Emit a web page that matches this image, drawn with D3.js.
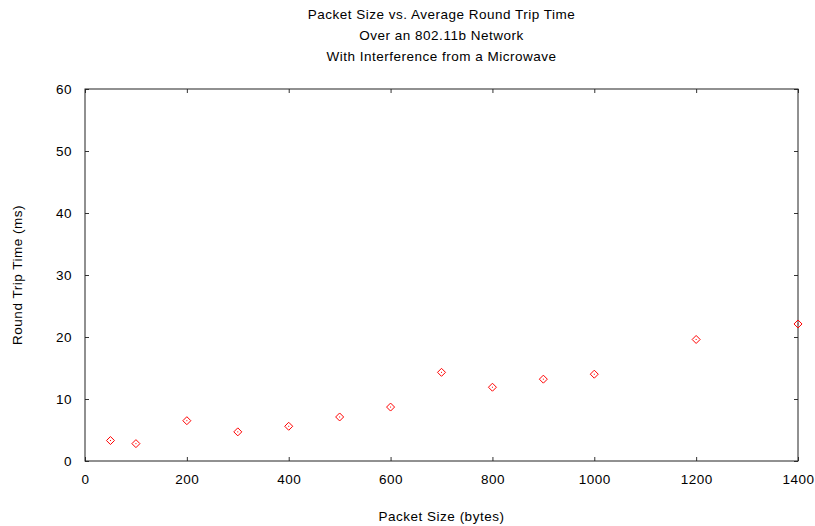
<!DOCTYPE html>
<meta charset="utf-8">
<style>
  body { margin: 0; background: #fff; }
  text { font-family: "Liberation Sans", Arial, sans-serif; fill: #000; letter-spacing: 0.5px; }
</style>
<svg width="815" height="526"></svg>
<script src="https://d3js.org/d3.v7.min.js"></script>
<script>

var packetSizes = [50, 100, 200, 300, 400, 500, 600, 700, 800, 900, 1000, 1200, 1400];
var rttValues   = [3.3, 2.8, 6.5, 4.7, 5.6, 7.1, 8.7, 14.3, 11.9, 13.2, 14.0, 19.6, 22.1];
var xTicks = [0, 200, 400, 600, 800, 1000, 1200, 1400];
var yTicks = [0, 10, 20, 30, 40, 50, 60];
var titleLines = ["Packet Size vs. Average Round Trip Time", "Over an 802.11b Network", "With Interference from a Microwave"];

var svg = d3.select("svg"),
    margin = {top: 89, right: 17, bottom: 65, left: 85},
    width = +svg.attr("width") - margin.left - margin.right,
    height = +svg.attr("height") - margin.top - margin.bottom,
    g = svg.append("g").attr("transform", "translate(" + margin.left + "," + margin.top + ")");

var data = packetSizes.map(function(s, i) { return {size: s, rtt: rttValues[i]}; });

var x = d3.scaleLinear().domain([0, 1400]).range([0, width]);
var y = d3.scaleLinear().domain([0, 60]).range([height, 0]);

var tickLen = 4;

// ticks on all four sides, pointing in
function styleAxis(sel) {
  sel.select(".domain").remove();
  sel.selectAll(".tick line").attr("stroke", "#333");
  sel.selectAll(".tick text")
      .style("font-family", "'Liberation Sans', Arial, sans-serif")
      .style("font-size", "13.5px")
      .attr("fill", "#000");
}

g.append("g")
    .attr("transform", "translate(0," + height + ")")
    .call(d3.axisBottom(x).tickValues(xTicks).tickSize(-tickLen).tickPadding(13).tickFormat(d3.format("d")))
    .call(styleAxis);

g.append("g")
    .call(d3.axisTop(x).tickValues(xTicks).tickSize(-tickLen).tickFormat(""))
    .call(styleAxis);

g.append("g")
    .call(d3.axisLeft(y).tickValues(yTicks).tickSize(-tickLen).tickPadding(13).tickFormat(d3.format("d")))
    .call(styleAxis);

g.append("g")
    .attr("transform", "translate(" + width + ",0)")
    .call(d3.axisRight(y).tickValues(yTicks).tickSize(-tickLen).tickFormat(""))
    .call(styleAxis);

g.append("rect")
    .attr("width", width)
    .attr("height", height)
    .attr("fill", "none")
    .attr("stroke", "#222")
    .attr("stroke-width", 1);

// points: small diamonds with a dot in the middle
var pts = g.selectAll(".pt")
  .data(data)
  .enter().append("g")
    .attr("class", "pt")
    .attr("transform", function(d) { return "translate(" + x(d.size) + "," + y(d.rtt) + ")"; });

pts.append("path")
    .attr("d", "M0,-4L4,0L0,4L-4,0Z")
    .attr("fill", "none")
    .attr("stroke", "#ff0000")
    .attr("stroke-width", 1);

pts.append("rect")
    .attr("x", -0.5).attr("y", -0.5)
    .attr("width", 1).attr("height", 1)
    .attr("fill", "#ff0000");

svg.append("g").selectAll("text")
  .data(titleLines)
  .enter().append("text")
    .attr("x", margin.left + width / 2)
    .attr("y", function(d, i) { return 19 + i * 21; })
    .attr("text-anchor", "middle")
    .style("font-size", "13.5px")
    .text(function(d) { return d; });

svg.append("text")
    .attr("x", margin.left + width / 2)
    .attr("y", 521)
    .attr("text-anchor", "middle")
    .style("font-size", "13.5px")
    .text("Packet Size (bytes)");

svg.append("text")
    .attr("transform", "translate(22," + (margin.top + height / 2) + ") rotate(-90)")
    .attr("text-anchor", "middle")
    .style("font-size", "13.5px")
    .text("Round Trip Time (ms)");

</script>
